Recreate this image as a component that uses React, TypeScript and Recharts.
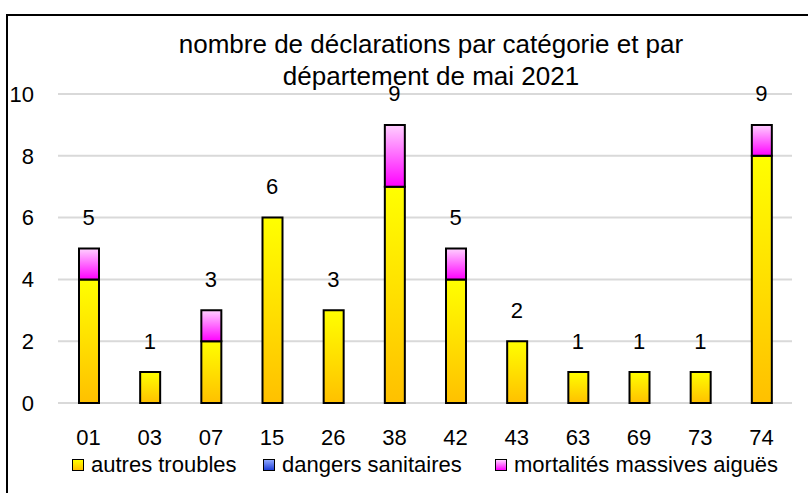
import React from 'react';
import {
   Bar,
   ComposedChart,
   CartesianGrid,
   LabelList,
   Line,
   XAxis,
   YAxis,
} from 'recharts';

const departements = ['01', '03', '07', '15', '26', '38', '42', '43', '63', '69', '73', '74'];
const autresTroubles = [4, 1, 2, 6, 3, 7, 4, 2, 1, 1, 1, 8];
const dangersSanitaires = [0, 0, 0, 0, 0, 0, 0, 0, 0, 0, 0, 0];
const mortalitesMassives = [1, 0, 1, 0, 0, 2, 1, 0, 0, 0, 0, 1];
const yTicks = [0, 2, 4, 6, 8, 10];

const FONT = '"Liberation Sans", Arial, sans-serif';

const rows = departements.map((dep, i) => ({
   dep,
   autres: autresTroubles[i],
   dangers: dangersSanitaires[i],
   mortalites: mortalitesMassives[i],
   total: autresTroubles[i] + dangersSanitaires[i] + mortalitesMassives[i],
}));

const legendItems = [
   { label: 'autres troubles', from: '#ffff00', to: '#ffc000', left: 72 },
   { label: 'dangers sanitaires', from: '#8fa8ff', to: '#1f3fd8', left: 263 },
   { label: 'mortalités massives aiguës', from: '#ffd0ff', to: '#ff00ff', left: 495 },
];

const TotalLabel = (props: any) => {
   const { x, y, value } = props;
   return (
      <text
         x={x}
         y={y - 31}
         textAnchor="middle"
         dominantBaseline="central"
         fontFamily={FONT}
         fontSize={22}
         fill="#000"
      >
         {value}
      </text>
   );
};

const App: React.FC = () => {
   return (
      <div
         style={{
            position: 'fixed',
            left: 0,
            top: 0,
            width: 808,
            height: 493,
            overflow: 'hidden',
            background: '#fff',
            fontFamily: FONT,
         }}
      >
         <div
            style={{
               position: 'absolute',
               left: 6,
               top: 14,
               width: 840,
               height: 520,
               border: '2px solid #000',
            }}
         />
         <div
            style={{
               position: 'absolute',
               left: 0,
               top: 28,
               width: 862,
               textAlign: 'center',
               fontSize: 26,
               lineHeight: '32px',
               color: '#000',
            }}
         >
            nombre de déclarations par catégorie et par
            <br />
            département de mai 2021
         </div>
         <div style={{ position: 'absolute', left: 0, top: 0 }}>
            <ComposedChart
               width={808}
               height={493}
               data={rows}
               margin={{ top: 94, right: 16, bottom: 50, left: 0 }}
            >
               <defs>
                  <linearGradient id="gradAutres" x1="0" y1="0" x2="0" y2="1">
                     <stop offset="0%" stopColor="#ffff00" />
                     <stop offset="100%" stopColor="#ffc000" />
                  </linearGradient>
                  <linearGradient id="gradDangers" x1="0" y1="0" x2="0" y2="1">
                     <stop offset="0%" stopColor="#8fa8ff" />
                     <stop offset="100%" stopColor="#1f3fd8" />
                  </linearGradient>
                  <linearGradient id="gradMort" x1="0" y1="0" x2="0" y2="1">
                     <stop offset="0%" stopColor="#ffd0ff" />
                     <stop offset="100%" stopColor="#ff00ff" />
                  </linearGradient>
               </defs>
               <CartesianGrid vertical={false} stroke="#d9d9d9" strokeWidth={2} />
               <XAxis
                  dataKey="dep"
                  height={40}
                  axisLine={false}
                  tickLine={false}
                  tickSize={0}
                  tickMargin={26}
                  interval={0}
                  tick={{ fill: '#000', fontSize: 22, fontFamily: FONT }}
               />
               <YAxis
                  width={58}
                  domain={[0, 10]}
                  ticks={yTicks}
                  axisLine={false}
                  tickLine={false}
                  tickSize={0}
                  tickMargin={24}
                  tick={{ fill: '#000', fontSize: 22, fontFamily: FONT }}
               />
               <Bar
                  dataKey="autres"
                  stackId="a"
                  barSize={20}
                  fill="url(#gradAutres)"
                  stroke="#000"
                  strokeWidth={2}
                  isAnimationActive={false}
               />
               <Bar
                  dataKey="dangers"
                  stackId="a"
                  barSize={20}
                  fill="url(#gradDangers)"
                  stroke="#000"
                  strokeWidth={2}
                  isAnimationActive={false}
               />
               <Bar
                  dataKey="mortalites"
                  stackId="a"
                  barSize={20}
                  fill="url(#gradMort)"
                  stroke="#000"
                  strokeWidth={2}
                  isAnimationActive={false}
               />
               <Line
                  dataKey="total"
                  stroke="none"
                  dot={false}
                  activeDot={false}
                  legendType="none"
                  isAnimationActive={false}
               >
                  <LabelList dataKey="total" content={TotalLabel} />
               </Line>
            </ComposedChart>
         </div>
         {legendItems.map((item) => (
            <div
               key={item.label}
               style={{
                  position: 'absolute',
                  left: item.left,
                  top: 451,
                  display: 'flex',
                  alignItems: 'center',
                  fontSize: 22,
                  lineHeight: '28px',
                  color: '#000',
                  whiteSpace: 'nowrap',
               }}
            >
               <span
                  style={{
                     display: 'inline-block',
                     width: 10,
                     height: 10,
                     border: '1.5px solid #000',
                     background: `linear-gradient(${item.from}, ${item.to})`,
                     marginRight: 7,
                  }}
               />
               {item.label}
            </div>
         ))}
      </div>
   );
};

export default App;
